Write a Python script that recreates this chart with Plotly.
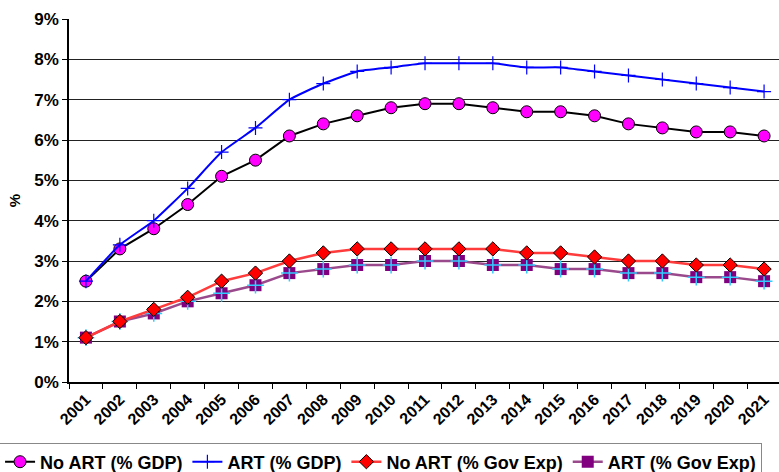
import plotly.graph_objects as go

years = [str(y) for y in range(2001, 2022)]
no_art_gdp = [2.5, 3.3, 3.8, 4.4, 5.1, 5.5, 6.1, 6.4, 6.6, 6.8, 6.9, 6.9, 6.8, 6.7, 6.7, 6.6, 6.4, 6.3, 6.2, 6.2, 6.1]
art_gdp = [2.5, 3.4, 4.0, 4.8, 5.7, 6.3, 7.0, 7.4, 7.7, 7.8, 7.9, 7.9, 7.9, 7.8, 7.8, 7.7, 7.6, 7.5, 7.4, 7.3, 7.2]
no_art_gov = [1.1, 1.5, 1.8, 2.1, 2.5, 2.7, 3.0, 3.2, 3.3, 3.3, 3.3, 3.3, 3.3, 3.2, 3.2, 3.1, 3.0, 3.0, 2.9, 2.9, 2.8]
art_gov = [1.1, 1.5, 1.7, 2.0, 2.2, 2.4, 2.7, 2.8, 2.9, 2.9, 3.0, 3.0, 2.9, 2.9, 2.8, 2.8, 2.7, 2.7, 2.6, 2.6, 2.5]
y_ticks = [0, 1, 2, 3, 4, 5, 6, 7, 8, 9]
y_tick_text = [f"{v}%" for v in y_ticks]

FONT = "Liberation Sans, Arial, sans-serif"

fig = go.Figure()
fig.add_trace(go.Scatter(
    x=years, y=art_gov, name="ART (% Gov Exp)", mode="lines+markers",
    line=dict(color="#9A4A8C", width=2.5),
    marker=dict(symbol="square", size=12, color="#800080", line=dict(width=0)),
    legendrank=4))
fig.add_trace(go.Scatter(
    x=years, y=art_gov, mode="markers", showlegend=False, hoverinfo="skip",
    marker=dict(symbol="cross-thin", size=12, line=dict(color="#33CCFF", width=1.5))))
fig.add_trace(go.Scatter(
    x=years, y=no_art_gov, name="No ART (% Gov Exp)", mode="lines+markers",
    line=dict(color="#FF3B3B", width=2.5),
    marker=dict(symbol="diamond", size=11, color="#FF0000", line=dict(color="black", width=1)),
    legendrank=3))
fig.add_trace(go.Scatter(
    x=years, y=no_art_gdp, name="No ART (% GDP)", mode="lines+markers",
    line=dict(color="black", width=2),
    marker=dict(symbol="circle", size=12, color="#FF00FF", line=dict(color="black", width=1)),
    legendrank=1))
fig.add_trace(go.Scatter(
    x=years, y=art_gdp, name="ART (% GDP)", mode="lines+markers",
    line=dict(color="#0000FF", width=2, shape="spline", smoothing=0.4),
    marker=dict(symbol="cross-thin", size=10, color="#0000FF", line=dict(color="#0000FF", width=1.2)),
    legendrank=2))

fig.update_layout(
    width=779, height=472,
    margin=dict(l=69, r=0, t=19, b=90, autoexpand=False),
    paper_bgcolor="white", plot_bgcolor="white",
    font=dict(family=FONT, size=15, color="black"),
    showlegend=True,
    legend=dict(
        orientation="h", x=-0.0985, xanchor="left", y=-0.2204, yanchor="middle",
        font=dict(family=FONT, size=18, color="black", weight="bold"),
        bordercolor="#888888", borderwidth=1, bgcolor="white",
        itemwidth=30, tracegroupgap=0, traceorder="normal"),
    xaxis=dict(
        type="category", range=[-0.5, 20.44], automargin=False,
        tickson="boundaries", ticks="outside", ticklen=5, tickcolor="black",
        tickangle=-45, showgrid=False, showline=True, linecolor="black", linewidth=1.5,
        tickfont=dict(family=FONT, size=16, color="black", weight="bold")),
    yaxis=dict(
        range=[0, 9], tickvals=y_ticks, ticktext=y_tick_text, automargin=False,
        showgrid=True, gridcolor="#222222", gridwidth=1,
        ticks="outside", ticklen=5, tickcolor="black",
        showline=True, linecolor="black", linewidth=1.5, zeroline=False,
        tickfont=dict(family=FONT, size=17, color="black", weight="bold"),
        title=dict(text="%", font=dict(family=FONT, size=15, color="black", weight="bold"), standoff=10)),
)

fig.write_html("out.html")
